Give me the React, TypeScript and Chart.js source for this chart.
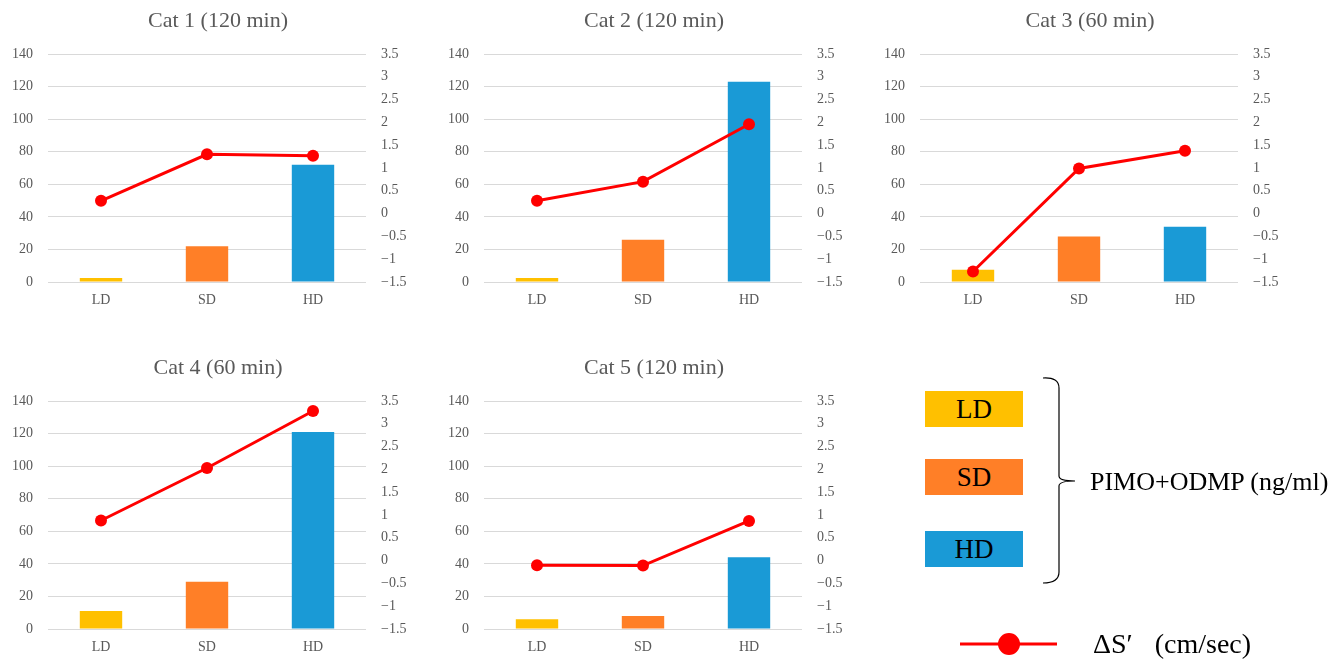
import React, { useEffect, useRef } from "react";
import { Chart, registerables } from "chart.js";

Chart.register(...registerables);

// Dose groups on the category axis
const doseLabels = ["LD", "SD", "HD"];

// Panel titles
const panelTitles = [
  "Cat 1 (120 min)",
  "Cat 2 (120 min)",
  "Cat 3 (60 min)",
  "Cat 4 (60 min)",
  "Cat 5 (120 min)",
];

// PIMO+ODMP plasma concentration (ng/ml), left axis
const concCat1 = [2.5, 22, 72];
const concCat2 = [2.5, 26, 123];
const concCat3 = [7.5, 28, 34];
const concCat4 = [11, 29, 121];
const concCat5 = [6, 8, 44];

// ΔS′ (cm/sec), right axis
const deltaCat1 = [0.28, 1.3, 1.27];
const deltaCat2 = [0.28, 0.7, 1.96];
const deltaCat3 = [-1.27, 0.99, 1.38];
const deltaCat4 = [0.88, 2.03, 3.28];
const deltaCat5 = [-0.1, -0.11, 0.87];

// Axis ranges
const concAxis = { min: 0, max: 140, step: 20 };
const deltaAxis = { min: -1.5, max: 3.5, step: 0.5 };

const doseColors = ["#FFC000", "#FF7F27", "#1A9AD6"];
const lineColor = "#FF0000";
const textGray = "#595959";
const gridGray = "#D9D9D9";
const FONT = "'Liberation Serif', 'Times New Roman', serif";

const panels = [
  { title: panelTitles[0], conc: concCat1, delta: deltaCat1, col: 0, row: 0 },
  { title: panelTitles[1], conc: concCat2, delta: deltaCat2, col: 1, row: 0 },
  { title: panelTitles[2], conc: concCat3, delta: deltaCat3, col: 2, row: 0 },
  { title: panelTitles[3], conc: concCat4, delta: deltaCat4, col: 0, row: 1 },
  { title: panelTitles[4], conc: concCat5, delta: deltaCat5, col: 1, row: 1 },
];

const PANEL_W = 436;
const PANEL_H = 320;
const COL_STEP = 436;
const ROW_STEP = 347;

function formatDelta(v: number): string {
  const r = Math.round(v * 10) / 10;
  return String(r).replace("-", "\u2212");
}

function Panel(props: { title: string; conc: number[]; delta: number[]; left: number; top: number }) {
  const ref = useRef<HTMLCanvasElement | null>(null);

  useEffect(() => {
    if (!ref.current) return;
    const tickFont = { family: FONT, size: 14 };
    const chart = new Chart(ref.current, {
      type: "bar",
      data: {
        labels: doseLabels,
        datasets: [
          {
            type: "line",
            data: props.delta,
            yAxisID: "y1",
            borderColor: lineColor,
            borderWidth: 3,
            pointRadius: 6,
            pointBackgroundColor: lineColor,
            pointBorderColor: lineColor,
            pointBorderWidth: 0,
            order: 0,
          } as any,
          {
            type: "bar",
            data: props.conc,
            yAxisID: "y",
            backgroundColor: doseColors,
            barPercentage: 0.4,
            categoryPercentage: 1,
            order: 1,
          },
        ],
      },
      options: {
        responsive: false,
        animation: false,
        devicePixelRatio: 1,
        layout: { padding: 0 },
        plugins: {
          legend: { display: false },
          tooltip: { enabled: false },
          title: {
            display: true,
            text: props.title,
            color: textGray,
            font: { family: FONT, size: 22, weight: "normal" as any },
            padding: { top: 8, bottom: 19.6 },
          },
        },
        scales: {
          x: {
            grid: { display: false, drawTicks: false },
            border: { display: false },
            ticks: { color: textGray, font: tickFont, padding: 10 },
            afterFit: (s: any) => {
              s.height = 38;
            },
          },
          y: {
            position: "left",
            min: concAxis.min,
            max: concAxis.max,
            ticks: { stepSize: concAxis.step, color: textGray, font: tickFont, padding: 15 },
            grid: { color: gridGray, lineWidth: 1, drawTicks: false },
            border: { display: false },
            afterFit: (s: any) => {
              s.width = 48;
            },
          },
          y1: {
            position: "right",
            min: deltaAxis.min,
            max: deltaAxis.max,
            ticks: {
              stepSize: deltaAxis.step,
              color: textGray,
              font: tickFont,
              padding: 15,
              callback: (v: any) => formatDelta(Number(v)),
            },
            grid: { display: false, drawTicks: false },
            border: { display: false },
            afterFit: (s: any) => {
              s.width = 70;
            },
          },
        },
      } as any,
    });
    return () => chart.destroy();
  }, []);

  return (
    <canvas
      ref={ref}
      width={PANEL_W}
      height={PANEL_H}
      style={{ position: "absolute", left: props.left, top: props.top, width: PANEL_W, height: PANEL_H }}
    />
  );
}

function LegendBox(props: { label: string; color: string; top: number }) {
  return (
    <div
      style={{
        position: "absolute",
        left: 925,
        top: props.top,
        width: 98,
        height: 36,
        background: props.color,
        color: "#000",
        fontFamily: FONT,
        fontSize: 27,
        lineHeight: "36px",
        textAlign: "center",
      }}
    >
      {props.label}
    </div>
  );
}

export default function App() {
  return (
    <div style={{ position: "absolute", left: 0, top: 0, width: 1340, height: 661, background: "#fff", overflow: "hidden" }}>
      {panels.map((p, i) => (
        <Panel key={i} title={p.title} conc={p.conc} delta={p.delta} left={p.col * COL_STEP} top={p.row * ROW_STEP} />
      ))}

      {doseLabels.map((d, i) => (
        <LegendBox key={d} label={d} color={doseColors[i]} top={[391, 459, 531][i]} />
      ))}

      <svg width={1340} height={661} style={{ position: "absolute", left: 0, top: 0, pointerEvents: "none" }}>
        <path
          d="M1043,378 Q1059,377 1059,388 L1059,476 Q1059,481 1075,481 M1075,481 Q1059,481 1059,486 L1059,572 Q1059,583 1043,583"
          fill="none"
          stroke="#000"
          strokeWidth={1.2}
        />
        <line x1={960} y1={644} x2={1057} y2={644} stroke={lineColor} strokeWidth={3} />
        <circle cx={1009} cy={644} r={11} fill={lineColor} />
      </svg>

      <div
        style={{
          position: "absolute",
          left: 1090,
          top: 466,
          height: 32,
          lineHeight: "32px",
          fontFamily: FONT,
          fontSize: 26,
          color: "#000",
          whiteSpace: "nowrap",
        }}
      >
        PIMO+ODMP (ng/ml)
      </div>

      <div
        style={{
          position: "absolute",
          left: 1093,
          top: 627,
          height: 34,
          lineHeight: "34px",
          fontFamily: FONT,
          fontSize: 28,
          color: "#000",
          whiteSpace: "nowrap",
        }}
      >
        <span>ΔS′</span>
        <span style={{ marginLeft: 22 }}>(cm/sec)</span>
      </div>
    </div>
  );
}
